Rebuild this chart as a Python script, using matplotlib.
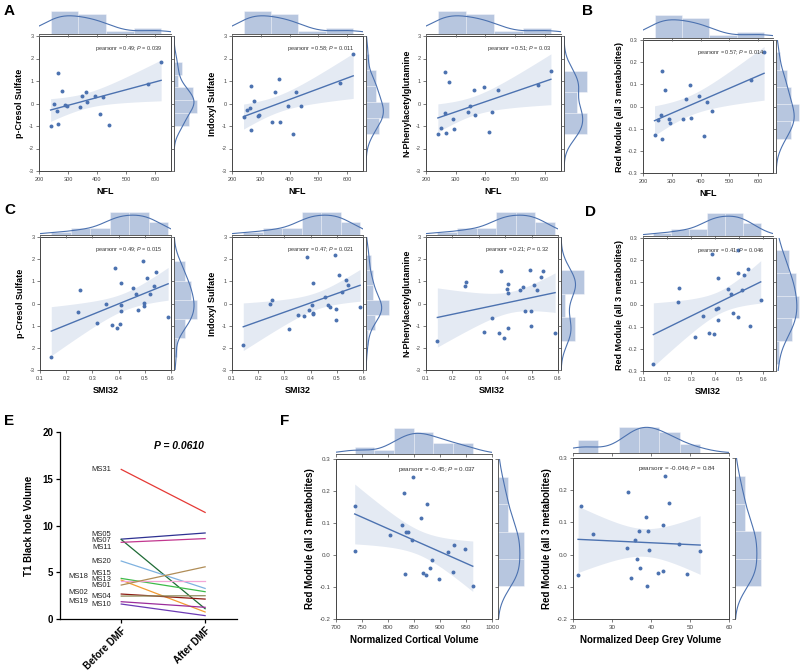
import numpy as np
import matplotlib
matplotlib.use("Agg")
import matplotlib.pyplot as plt
from matplotlib.ticker import FormatStrFormatter

plt.rcParams['font.family'] = ['Liberation Sans', 'DejaVu Sans']
plt.rcParams['axes.unicode_minus'] = False
plt.rcParams['mathtext.fontset'] = 'custom'
plt.rcParams['mathtext.rm'] = 'Liberation Sans'
plt.rcParams['mathtext.it'] = 'Liberation Sans:italic'

BLUE = '#4c72b0'
W, H = 800, 672

# ---- data: NFL panels (A, B) ----
nfl = [240, 251, 263, 265, 267, 278, 290, 295, 340, 348, 363, 366, 394, 411, 421, 441, 576, 621]
pcs_nfl = [-1.0, -0.03, -0.33, 1.36, -0.91, 0.56, -0.08, -0.12, -0.17, 0.32, 0.5, 0.05, 0.35, -0.47, 0.27, -0.94, 0.87, 1.86]
ind_nfl = [-0.59, -0.3, -0.21, 0.79, -1.19, 0.12, -0.55, -0.5, -0.81, 0.49, 1.08, -0.81, -0.09, -1.36, 0.49, -0.09, 0.91, 2.18]
png_nfl = [-1.37, -1.07, -0.4, 1.42, -1.31, 0.94, -0.69, -1.13, -0.38, -0.11, 0.59, -0.5, 0.72, -1.26, -0.37, 0.61, 0.84, 1.43]
red_nfl = [-0.13, -0.06, -0.04, 0.16, -0.145, 0.075, -0.055, -0.073, -0.055, 0.033, 0.098, -0.052, 0.047, -0.133, 0.019, -0.019, 0.119, 0.244]

# ---- data: SMI32 panels (C, D) ----
smi32 = [0.143, 0.246, 0.251, 0.318, 0.351, 0.376, 0.385, 0.394, 0.405, 0.41, 0.41, 0.411,
         0.455, 0.466, 0.475, 0.494, 0.496, 0.496, 0.51, 0.52, 0.536, 0.543, 0.589]
pcs_smi = [-2.43, -0.38, 0.63, -0.87, -0.03, -0.96, 1.62, -1.09, -0.92, -0.06, -0.32, 0.92,
           0.7, 0.41, -0.28, 1.9, 0.03, -0.12, 1.16, 0.43, 0.8, 1.42, -0.63]
ind_smi = [-1.86, -0.03, 0.15, -1.14, -0.52, -0.58, 2.09, -0.3, -0.06, -0.41, -0.47, 0.94,
           0.3, -0.05, -0.18, 2.21, -0.26, -0.76, 1.29, 0.53, 1.08, 0.84, -0.14]
png_smi = [-1.68, 0.78, 0.99, -1.27, -0.64, -1.32, 1.47, -1.55, 0.67, 0.87, 0.47, -1.09,
           0.6, 0.74, -0.35, 1.49, -0.34, -1.03, 0.83, 0.61, 1.19, 1.45, -1.33]
red_smi = [-0.267, 0.011, 0.075, -0.145, -0.052, -0.13, 0.226, -0.134, -0.019, -0.016, -0.072, 0.119,
           0.069, 0.046, -0.039, 0.245, -0.057, 0.144, 0.066, 0.133, 0.16, -0.098, 0.021]

# ---- data: volume panels (F) ----
red_vol = [0.244, 0.194, 0.16, 0.152, 0.117, 0.093, 0.072, 0.072, 0.064, 0.046, 0.032,
           0.019, 0.014, 0.01, -0.015, -0.041, -0.052, -0.056, -0.059, -0.062, -0.074, -0.098]
cortical = [848, 831, 875, 737, 863, 826, 834, 838, 804, 847, 927,
            949, 736, 916, 884, 881, 925, 867, 833, 874, 898, 963]
deep_grey = [43.7, 34.2, 44.5, 22.0, 38.8, 43.2, 36.8, 39.2, 25.1, 35.9, 47.2,
             33.8, 39.6, 52.6, 36.4, 37.3, 43.0, 41.8, 49.2, 21.3, 34.8, 39.1]

# ---- data: panel E (before / after DMF) ----
e_ids = ['MS31', 'MS05', 'MS07', 'MS11', 'MS20', 'MS15', 'MS18', 'MS13', 'MS01', 'MS02', 'MS04', 'MS19', 'MS10']
e_before = [16.0, 8.54, 8.5, 8.2, 6.2, 4.34, 4.16, 4.09, 3.63, 2.67, 2.45, 1.85, 1.6]
e_after = [11.4, 9.2, 1.1, 8.6, 3.27, 2.92, 0.75, 4.09, 5.58, 2.13, 2.49, 1.25, 0.36]
e_colors = ['#e53935', '#2e3192', '#1e6b35', '#c2378f', '#7fb2e0', '#3dbb4a', '#f39c32',
            '#f4a6d7', '#b08d57', '#8c1c13', '#8f8a5a', '#9b2d9b', '#6d3bb5']
# label placement (y in data units, column) to avoid overlaps
e_label_y = [16.0, 9.0, 8.4, 7.7, 6.2, 4.9, 4.5, 4.25, 3.6, 2.8, 2.45, 1.85, 1.5]
e_label_outer = [False, False, False, False, False, False, True, False, False, True, False, True, False]

fig = plt.figure(figsize=(W / 100, H / 100), dpi=100)


def px_rect(l, t, r, b):
    """Pixel box (left, top, right, bottom) -> figure fraction rect."""
    return [l / W, 1 - b / H, (r - l) / W, (b - t) / H]


def kde(v, grid):
    v = np.asarray(v, float)
    bw = v.std(ddof=1) * len(v) ** -0.2
    z = (grid[:, None] - v[None, :]) / bw
    return np.exp(-0.5 * z ** 2).sum(1) / (len(v) * bw * np.sqrt(2 * np.pi))


def regline(ax, x, y):
    """Least squares line with a 95% confidence band."""
    x = np.asarray(x, float)
    y = np.asarray(y, float)
    n = len(x)
    b, a = np.polyfit(x, y, 1)
    grid = np.linspace(x.min(), x.max(), 100)
    fit = a + b * grid
    s = np.sqrt(((y - (a + b * x)) ** 2).sum() / (n - 2))
    se = s * np.sqrt(1 / n + (grid - x.mean()) ** 2 / ((x - x.mean()) ** 2).sum())
    ax.fill_between(grid, fit - 2.1 * se, fit + 2.1 * se, color=BLUE, alpha=0.15, lw=0)
    ax.plot(grid, fit, color=BLUE, lw=1)


def joint(box, x, y, xlim, ylim, xticks, yticks, xlabel, ylabel, stat,
          marg=24, gap=2, fs=6.5, tfs=4, yfmt=None, ylabels=None, stat_xy=(0.93, 0.94)):
    l, t, r, b = box
    ax = fig.add_axes(px_rect(l, t, r, b))
    axx = fig.add_axes(px_rect(l, t - gap - marg, r, t - gap))
    axy = fig.add_axes(px_rect(r + gap + 1, t, r + gap + 1 + marg, b))

    regline(ax, x, y)
    ax.scatter(x, y, s=8, color=BLUE, lw=0, zorder=3)
    ax.set_xlim(xlim)
    ax.set_ylim(ylim)
    ax.set_xticks(xticks)
    ax.set_yticks(yticks)
    if yfmt:
        ax.yaxis.set_major_formatter(FormatStrFormatter(yfmt))
    if ylabels:
        ax.set_yticklabels(ylabels)
    ax.tick_params(length=2.5, width=0.6, color='#666', labelsize=tfs, labelcolor='#444', pad=1.5)
    for sp in ax.spines.values():
        sp.set_linewidth(0.7)
        sp.set_color('#444')
    ax.set_xlabel(xlabel, fontsize=fs, fontweight='bold', labelpad=4)
    ax.set_ylabel(ylabel, fontsize=fs, fontweight='bold', labelpad=3)
    ax.text(stat_xy[0], stat_xy[1], stat, transform=ax.transAxes, ha='right', va='top',
            fontsize=tfs, color='#333')

    # top marginal
    axx.hist(x, bins='fd', density=True, color=BLUE, alpha=0.4, edgecolor='white', lw=0.6)
    gx = np.linspace(xlim[0], xlim[1], 200)
    axx.plot(gx, kde(x, gx), color=BLUE, lw=0.8)
    axx.set_xlim(xlim)
    axx.set_ylim(bottom=0)
    axx.set_xticks(xticks)
    axx.set_xticklabels([])
    axx.set_yticks([])
    for k in ('top', 'left', 'right'):
        axx.spines[k].set_visible(False)
    axx.spines['bottom'].set_linewidth(0.6)
    axx.spines['bottom'].set_color('#444')
    axx.tick_params(axis='x', length=2, width=0.6, color='#666')

    # right marginal
    axy.hist(y, bins='fd', density=True, orientation='horizontal', color=BLUE, alpha=0.4,
             edgecolor='white', lw=0.6)
    gy = np.linspace(ylim[0], ylim[1], 200)
    axy.plot(kde(y, gy), gy, color=BLUE, lw=0.8)
    axy.set_ylim(ylim)
    axy.set_xlim(left=0)
    axy.set_yticks(yticks)
    axy.set_yticklabels([])
    axy.set_xticks([])
    for k in ('top', 'bottom', 'right'):
        axy.spines[k].set_visible(False)
    axy.spines['left'].set_linewidth(0.6)
    axy.spines['left'].set_color('#444')
    axy.tick_params(axis='y', length=2, width=0.6, color='#666')
    return ax


def stat_text(r, p):
    return 'pearsonr = %s; $\\it{P}$ = %s' % (r, p)


nfl_lim = (200, 655)
nfl_ticks = [200, 300, 400, 500, 600]
m_lim = (-3, 3)
m_ticks = [-3, -2, -1, 0, 1, 2, 3]
r_lim = (-0.3, 0.3)
r_ticks = [-0.3, -0.2, -0.1, 0.0, 0.1, 0.2, 0.3]
smi_ticks = [0.1, 0.2, 0.3, 0.4, 0.5, 0.6]

# Row A / B
joint((39, 36, 171, 171), nfl, pcs_nfl, nfl_lim, m_lim, nfl_ticks, m_ticks,
      'NFL', 'p-Cresol Sulfate', stat_text('0.49', '0.039'))
joint((232, 36, 363, 171), nfl, ind_nfl, nfl_lim, m_lim, nfl_ticks, m_ticks,
      'NFL', 'Indoxyl Sulfate', stat_text('0.58', '0.011'))
joint((426, 36, 561, 171), nfl, png_nfl, nfl_lim, m_lim, nfl_ticks, m_ticks,
      'NFL', 'N-Phenylacetylglutamine', stat_text('0.51', '0.03'))
joint((643, 40, 773, 173), nfl, red_nfl, (200, 652), r_lim, nfl_ticks, r_ticks,
      'NFL', 'Red Module (all 3 metabolites)', stat_text('0.57', '0.014'), yfmt='%.1f')

# Row C / D
joint((40, 237, 171, 370), smi32, pcs_smi, (0.1, 0.6), m_lim, smi_ticks, m_ticks,
      'SMI32', 'p-Cresol Sulfate', stat_text('0.49', '0.015'),
      ylabels=['-3', '2', '1', '0', '1', '2', '3'])
joint((232, 237, 363, 370), smi32, ind_smi, (0.1, 0.6), m_lim, smi_ticks, m_ticks,
      'SMI32', 'Indoxyl Sulfate', stat_text('0.47', '0.021'))
joint((426, 237, 558, 370), smi32, png_smi, (0.1, 0.6), m_lim, smi_ticks, m_ticks,
      'SMI32', 'N-Phenylacetylglutamine', stat_text('0.21', '0.32'))
joint((643, 238, 773, 371), smi32, red_smi, (0.1, 0.64), r_lim, smi_ticks, r_ticks,
      'SMI32', 'Red Module (all 3 metabolites)', stat_text('0.41', '0.046'), yfmt='%.1f')

# Row F
f_ticks_y = [-0.2, -0.1, 0.0, 0.1, 0.2, 0.3]
joint((336, 459, 492, 619), cortical, red_vol, (700, 1000), (-0.2, 0.3),
      [700, 750, 800, 850, 900, 950, 1000], f_ticks_y,
      'Normalized Cortical Volume', 'Red Module (all 3 metabolites)', stat_text('-0.45', '0.037'),
      marg=27, gap=5, fs=7, tfs=4.5, yfmt='%.1f', stat_xy=(0.9, 0.96))
joint((573, 458, 729, 619), deep_grey, red_vol, (20, 60), (-0.2, 0.3),
      [20, 30, 40, 50, 60], f_ticks_y,
      'Normalized Deep Grey Volume', 'Red Module (all 3 metabolites)', stat_text('-0.046', '0.84'),
      marg=27, gap=5, fs=7, tfs=4.5, yfmt='%.1f', stat_xy=(0.92, 0.96))

# Panel E: paired lines before / after DMF
axe = fig.add_axes(px_rect(60, 432, 237, 619))
for b0, a0, c in zip(e_before, e_after, e_colors):
    axe.plot([0, 1], [b0, a0], color=c, lw=0.9)
for name, ly, outer in zip(e_ids, e_label_y, e_label_outer):
    axe.text(-0.39 if outer else -0.12, ly, name, ha='right', va='center', fontsize=5.5, color='#222')
axe.set_xlim(-0.73, 1.38)
axe.set_ylim(0, 20)
axe.set_yticks([0, 5, 10, 15, 20])
axe.set_xticks([0, 1])
axe.set_xticklabels(['Before DMF', 'After DMF'], rotation=45, ha='right', rotation_mode='anchor')
for lab in axe.get_xticklabels() + axe.get_yticklabels():
    lab.set_fontweight('bold')
axe.tick_params(labelsize=7, length=3, width=0.9, pad=2)
for k in ('top', 'right'):
    axe.spines[k].set_visible(False)
for k in ('left', 'bottom'):
    axe.spines[k].set_linewidth(0.9)
axe.set_ylabel('T1 Black hole Volume', fontsize=7, fontweight='bold', labelpad=6)
axe.text(0.69, 18.5, 'P = 0.0610', ha='center', va='center', fontsize=7.5,
         fontweight='bold', fontstyle='italic')

# Panel letters
for letter, (lx, ly) in zip('ABCDEF', [(4, 4), (582, 4), (4, 203), (585, 205), (4, 414), (280, 414)]):
    fig.text(lx / W, 1 - ly / H, letter, fontsize=11, fontweight='bold', va='top', ha='left')

fig.savefig('out.png', dpi=100)
